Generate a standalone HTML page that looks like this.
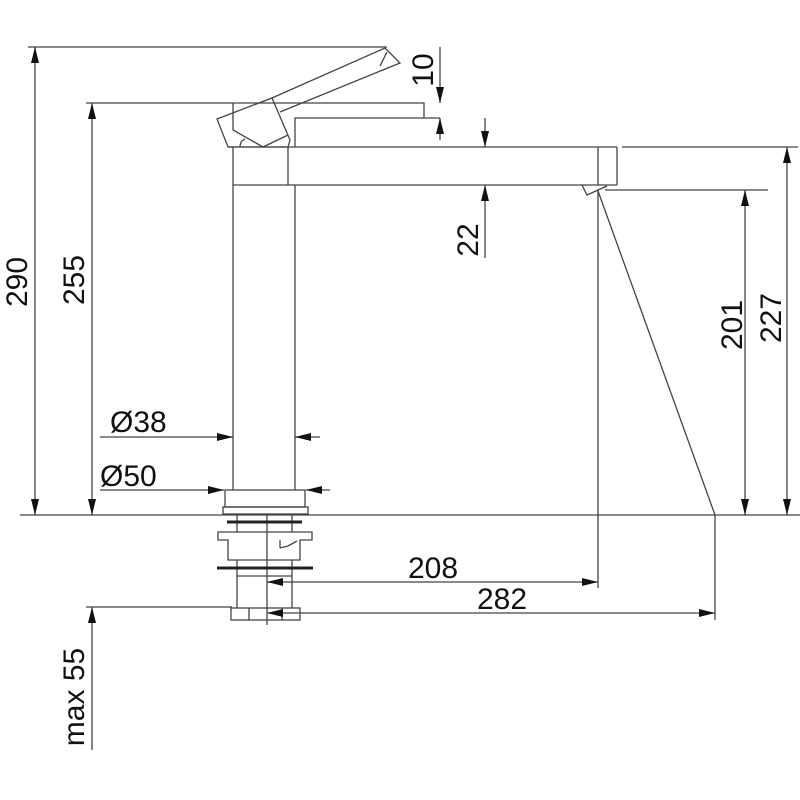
<!DOCTYPE html>
<html><head><style>html,body{margin:0;padding:0;background:#fff}svg{display:block}</style></head><body>
<svg width="800" height="800" viewBox="0 0 800 800" xmlns="http://www.w3.org/2000/svg">
<defs>
<marker id="a" viewBox="0 0 16 8" refX="16" refY="4" markerWidth="16" markerHeight="8" orient="auto-start-reverse" markerUnits="userSpaceOnUse"><path d="M0,0 L16,4 L0,8 z" fill="#111"/></marker>
</defs>
<g stroke="#444" stroke-width="1.3" fill="none">
<line x1="20" y1="515" x2="800" y2="515"/>
<line x1="28" y1="47" x2="387" y2="47"/>
<line x1="86" y1="103" x2="230" y2="103"/>
<line x1="86" y1="607" x2="232" y2="607"/>
<line x1="605" y1="190" x2="768" y2="190"/>
<line x1="622" y1="147" x2="798" y2="147"/>
<line x1="598" y1="190" x2="598" y2="588"/>
<line x1="715" y1="515" x2="715" y2="620"/>
<line x1="228" y1="147" x2="617" y2="147"/>
<line x1="233" y1="185" x2="617" y2="185"/>
<line x1="617" y1="147" x2="617" y2="185"/>
<line x1="598" y1="147" x2="598" y2="185"/>
<line x1="288" y1="147" x2="288" y2="185"/>
<polyline points="582,185 587,195 607,186"/>
<line x1="598" y1="191" x2="715" y2="515"/>
<line x1="233" y1="147" x2="233" y2="490"/>
<line x1="295" y1="185" x2="295" y2="490"/>
<polyline points="230,103 424,103 424,118 440,118"/>
<polyline points="295,147 295,118 424,118"/>
<!-- handle -->
<polygon points="217,119 272,98 290,140 288,147 228,147"/>
<polyline points="233,103 233,130 263,147"/>
<line x1="263" y1="147" x2="288" y2="135"/>
<path d="M240,147 Q240,141 245,139"/>
<polyline points="272,98 385,48 400,63 280,112"/>
<line x1="387" y1="52" x2="380" y2="66"/>
<!-- base -->
<rect x="225" y="490" width="80" height="17"/>
<rect x="223" y="507" width="85" height="7"/>
<line x1="237" y1="514" x2="237" y2="532"/>
<line x1="292" y1="514" x2="292" y2="532"/>
<line x1="267" y1="514" x2="267" y2="625"/>
<polygon points="218,532 312,532 312,540 300,540 300,560 228,560 228,540 218,540"/>
<polyline points="280,548 288,546 297,541"/>
<line x1="280" y1="540" x2="280" y2="548"/>
<line x1="237" y1="560" x2="237" y2="608"/>
<line x1="292" y1="560" x2="292" y2="608"/>
<line x1="237" y1="576" x2="292" y2="576"/>
<rect x="231" y="608" width="69" height="12"/>
<line x1="249" y1="608" x2="249" y2="620"/>
<line x1="282" y1="608" x2="282" y2="620"/>
</g>
<g stroke="#222" stroke-width="3">
<line x1="227" y1="522" x2="302" y2="522"/>
<line x1="217" y1="568" x2="313" y2="568"/>
</g>
<g stroke="#444" stroke-width="1.3" fill="none">
<line x1="35" y1="47" x2="35" y2="515" marker-start="url(#a)" marker-end="url(#a)"/>
<line x1="92" y1="103" x2="92" y2="515" marker-start="url(#a)" marker-end="url(#a)"/>
<line x1="92" y1="750" x2="92" y2="607" marker-end="url(#a)"/>
<line x1="745" y1="190" x2="745" y2="515" marker-start="url(#a)" marker-end="url(#a)"/>
<line x1="787" y1="147" x2="787" y2="515" marker-start="url(#a)" marker-end="url(#a)"/>
<line x1="485" y1="118" x2="485" y2="147" marker-end="url(#a)"/>
<line x1="485" y1="258" x2="485" y2="185" marker-end="url(#a)"/>
<line x1="440" y1="47" x2="440" y2="103" marker-end="url(#a)"/>
<line x1="440" y1="140" x2="440" y2="118" marker-end="url(#a)"/>
<line x1="100" y1="437" x2="233" y2="437" marker-end="url(#a)"/>
<line x1="320" y1="437" x2="295" y2="437" marker-end="url(#a)"/>
<line x1="100" y1="490" x2="224" y2="490" marker-end="url(#a)"/>
<line x1="330" y1="490" x2="306" y2="490" marker-end="url(#a)"/>
<line x1="267" y1="582" x2="598" y2="582" marker-start="url(#a)" marker-end="url(#a)"/>
<line x1="267" y1="613" x2="715" y2="613" marker-start="url(#a)" marker-end="url(#a)"/>
</g>
<g font-family="Liberation Sans, sans-serif" font-size="30" fill="#111">
<text transform="translate(27,282) rotate(-90)" text-anchor="middle">290</text>
<text transform="translate(84,280) rotate(-90)" text-anchor="middle">255</text>
<text transform="translate(84,697) rotate(-90)" text-anchor="middle">max 55</text>
<text transform="translate(742,325) rotate(-90)" text-anchor="middle">201</text>
<text transform="translate(781,318) rotate(-90)" text-anchor="middle">227</text>
<text transform="translate(478,240) rotate(-90)" text-anchor="middle">22</text>
<text transform="translate(433,70) rotate(-90)" text-anchor="middle">10</text>
<text x="110" y="432">Ø38</text>
<text x="100" y="486">Ø50</text>
<text x="408" y="578">208</text>
<text x="477" y="609">282</text>
</g>
</svg>
</body></html>
